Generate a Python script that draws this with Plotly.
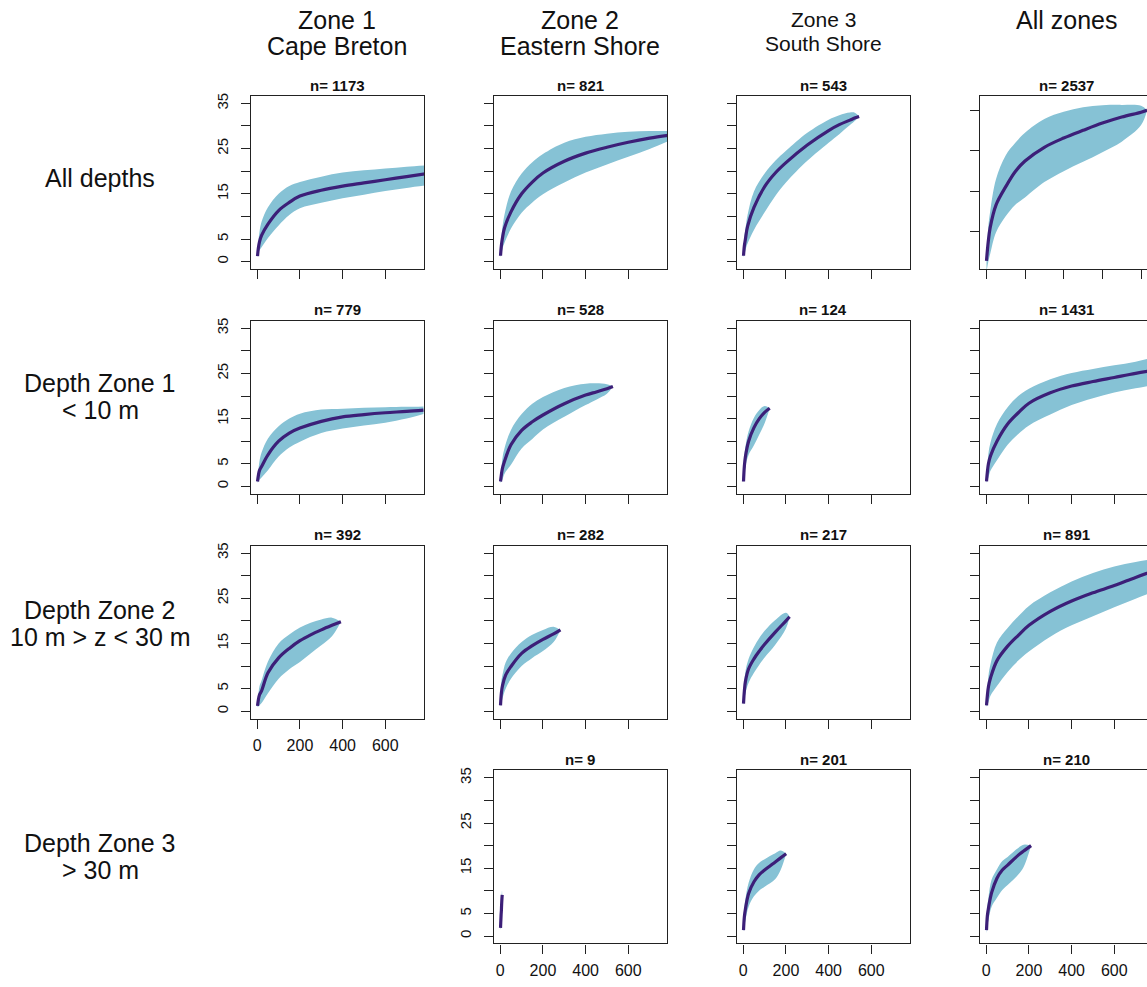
import plotly.graph_objects as go

# ---------------- data ----------------
r1c1_x = [1, 5, 10, 20, 50, 100, 150, 200, 300, 400, 500, 600, 700, 800]
r1c1_mean = [1.2, 3.0, 4.3, 5.8, 8.3, 11.3, 13.1, 14.5, 15.8, 16.7, 17.4, 18.1, 18.8, 19.5]
r1c1_hi = [1.5, 4.5, 6.5, 8.8, 12.0, 15.0, 16.7, 17.6, 18.8, 19.7, 20.2, 20.6, 21.0, 21.3]
r1c1_lo = [0.9, 1.8, 2.5, 3.2, 5.2, 8.0, 10.3, 11.8, 13.0, 14.0, 14.8, 15.6, 16.3, 16.9]

r1c2_x = [1, 5, 10, 20, 50, 100, 150, 200, 300, 400, 500, 600, 700, 800]
r1c2_mean = [1.3, 3.5, 5.2, 7.5, 11.0, 15.0, 17.6, 19.6, 22.2, 24.0, 25.3, 26.4, 27.3, 28.0]
r1c2_hi = [1.6, 5.5, 7.6, 10.5, 15.5, 19.5, 22.0, 23.8, 26.3, 27.6, 28.3, 28.7, 28.9, 28.9]
r1c2_lo = [1.0, 1.5, 2.8, 4.2, 7.3, 10.8, 13.1, 14.9, 17.5, 19.7, 21.5, 23.2, 24.9, 26.9]

r1c3_x = [1, 5, 10, 20, 50, 100, 150, 200, 300, 400, 450, 500, 525, 543]
r1c3_mean = [1.3, 3.5, 5.0, 7.8, 12.0, 16.6, 19.6, 21.9, 25.8, 29.0, 30.3, 31.3, 31.8, 32.1]
r1c3_hi = [1.6, 5.5, 7.2, 10.3, 15.5, 19.5, 22.3, 24.5, 28.5, 31.4, 32.4, 33.0, 32.9, 32.1]
r1c3_lo = [1.0, 1.5, 2.5, 4.0, 7.0, 10.9, 14.5, 17.5, 22.3, 26.3, 28.2, 30.2, 31.2, 32.1]

r1c4_x = [1, 10, 20, 50, 100, 150, 200, 300, 400, 500, 600, 700, 800, 831]
r1c4_mean = [2.8, 7.5, 11.0, 16.6, 21.1, 24.9, 27.5, 30.9, 33.2, 35.1, 36.9, 38.4, 39.6, 40.1]
r1c4_hi = [3.2, 11.0, 15.0, 23.0, 28.9, 32.0, 34.5, 37.9, 39.7, 40.8, 41.3, 41.4, 41.2, 40.1]
r1c4_lo = [0.0, 2.5, 4.5, 9.8, 13.8, 16.7, 18.5, 22.3, 25.0, 27.3, 29.7, 32.3, 36.4, 40.1]

r2c1_x = [1, 10, 20, 50, 100, 150, 200, 300, 400, 500, 600, 700, 779]
r2c1_mean = [1.1, 3.5, 4.4, 7.0, 10.0, 11.8, 12.9, 14.4, 15.4, 15.9, 16.3, 16.6, 16.9]
r2c1_hi = [1.4, 5.5, 7.5, 10.6, 13.3, 15.0, 16.1, 17.0, 17.2, 17.4, 17.5, 17.6, 17.7]
r2c1_lo = [0.8, 1.5, 2.0, 3.6, 6.6, 8.6, 9.9, 11.8, 12.8, 13.5, 14.1, 15.0, 16.0]

r2c2_x = [1, 10, 20, 50, 100, 150, 200, 300, 400, 450, 500, 528]
r2c2_mean = [1.1, 4.0, 5.6, 9.2, 12.4, 14.3, 15.8, 18.3, 20.2, 20.9, 21.6, 22.1]
r2c2_hi = [1.4, 6.2, 8.5, 12.5, 16.0, 18.3, 19.8, 21.8, 22.7, 22.8, 22.6, 22.1]
r2c2_lo = [0.8, 1.5, 2.8, 4.8, 8.4, 10.5, 12.6, 15.4, 18.0, 19.2, 20.5, 22.1]

r2c3_x = [1, 5, 10, 25, 50, 75, 100, 124]
r2c3_mean = [1.1, 4.5, 6.6, 10.0, 13.0, 15.0, 16.4, 17.3]
r2c3_hi = [1.4, 6.5, 8.8, 12.2, 15.2, 16.9, 17.8, 17.3]
r2c3_lo = [0.8, 2.5, 4.3, 7.0, 9.1, 11.5, 14.0, 17.3]

r2c4_x = [1, 10, 20, 50, 100, 150, 200, 300, 400, 500, 600, 700, 800]
r2c4_mean = [1.1, 5.0, 6.8, 10.0, 13.8, 16.3, 18.4, 20.7, 22.2, 23.2, 24.1, 25.0, 25.8]
r2c4_hi = [1.4, 7.3, 9.8, 13.8, 17.5, 20.0, 21.6, 23.7, 25.1, 26.0, 26.8, 27.6, 28.7]
r2c4_lo = [0.8, 2.0, 3.5, 5.8, 9.2, 11.6, 13.5, 15.9, 18.0, 19.5, 20.8, 21.7, 22.6]

r3c1_x = [1, 10, 20, 50, 100, 150, 200, 250, 300, 350, 392]
r3c1_mean = [1.2, 3.6, 4.5, 8.5, 11.8, 13.9, 15.6, 16.9, 18.0, 19.0, 19.8]
r3c1_hi = [1.5, 5.5, 6.8, 11.0, 15.0, 17.0, 18.5, 19.6, 20.3, 20.7, 19.8]
r3c1_lo = [0.9, 1.3, 1.8, 4.0, 7.2, 9.3, 10.9, 12.8, 14.6, 16.6, 19.8]

r3c2_x = [1, 5, 10, 25, 50, 100, 150, 200, 250, 282]
r3c2_mean = [1.3, 4.0, 5.6, 8.0, 9.9, 12.8, 14.5, 15.9, 17.1, 18.0]
r3c2_hi = [1.6, 6.5, 8.0, 10.8, 12.8, 15.3, 16.9, 18.0, 18.7, 18.0]
r3c2_lo = [1.0, 1.8, 2.8, 5.0, 7.2, 10.0, 11.8, 13.3, 15.3, 18.0]

r3c3_x = [1, 5, 10, 25, 50, 75, 100, 150, 200, 217]
r3c3_mean = [1.7, 4.5, 6.6, 9.4, 11.6, 13.3, 14.8, 17.5, 20.0, 20.9]
r3c3_hi = [2.0, 6.5, 8.8, 11.6, 14.2, 16.2, 17.8, 20.2, 21.8, 20.9]
r3c3_lo = [1.4, 2.5, 4.0, 6.3, 8.5, 10.3, 11.9, 14.7, 18.3, 20.9]

r3c4_x = [1, 10, 20, 50, 100, 150, 200, 300, 400, 500, 600, 700, 800]
r3c4_mean = [1.3, 5.4, 7.4, 11.2, 14.4, 16.8, 19.0, 22.1, 24.4, 26.2, 27.8, 29.6, 31.3]
r3c4_hi = [1.6, 7.8, 10.5, 15.2, 18.4, 21.0, 23.3, 26.3, 28.7, 30.6, 32.0, 33.0, 33.8]
r3c4_lo = [1.0, 2.0, 3.5, 5.6, 8.7, 11.2, 13.2, 16.5, 19.0, 21.0, 23.0, 24.9, 26.7]

r4c2_x = [1, 2, 3, 4, 5, 6, 7, 8, 9]
r4c2_mean = [1.8, 2.9, 3.9, 4.9, 5.6, 6.8, 7.7, 8.5, 9.1]
r4c2_hi = [2.1, 4.5, 6.0, 7.2, 8.2, 9.0, 9.6, 10.0, 9.1]
r4c2_lo = [1.5, 1.5, 2.0, 2.8, 3.5, 4.5, 5.8, 7.2, 9.1]

r4c3_x = [1, 5, 10, 25, 50, 75, 100, 150, 175, 201]
r4c3_mean = [1.3, 4.3, 6.0, 9.4, 12.0, 13.6, 14.6, 16.4, 17.3, 18.2]
r4c3_hi = [1.6, 6.2, 8.2, 11.8, 14.8, 16.2, 17.0, 18.3, 18.9, 18.2]
r4c3_lo = [1.0, 2.0, 3.5, 6.5, 8.8, 10.1, 10.9, 12.6, 14.6, 18.2]

r4c4_x = [1, 5, 10, 25, 50, 75, 100, 150, 175, 210]
r4c4_mean = [1.3, 4.5, 6.1, 9.6, 12.8, 14.6, 15.7, 17.9, 18.8, 20.0]
r4c4_hi = [1.6, 6.5, 8.5, 12.5, 14.8, 16.6, 17.5, 19.5, 20.2, 20.0]
r4c4_lo = [0.6, 2.2, 3.5, 6.5, 8.5, 10.2, 11.3, 13.6, 15.3, 20.0]

n_labels = {(1, 1): "n= 1173", (1, 2): "n= 821", (1, 3): "n= 543", (1, 4): "n= 2537",
            (2, 1): "n= 779", (2, 2): "n= 528", (2, 3): "n= 124", (2, 4): "n= 1431",
            (3, 1): "n= 392", (3, 2): "n= 282", (3, 3): "n= 217", (3, 4): "n= 891",
            (4, 2): "n= 9", (4, 3): "n= 201", (4, 4): "n= 210"}

col_titles = [["Zone 1", "Cape Breton"], ["Zone 2", "Eastern Shore"],
              ["Zone 3", "South Shore"], ["All zones"]]
row_titles = [["All depths"], ["Depth Zone 1", "&lt; 10 m"],
              ["Depth Zone 2", "10 m &gt; z &lt; 30 m"], ["Depth Zone 3", "&gt; 30 m"]]

x_ticks = [0, 200, 400, 600, 800]
y_ticks = [0, 5, 10, 15, 20, 25, 30, 35]
y_ticktext = ["0", "5", "", "15", "", "25", "", "35"]
y_ticks_all = [10, 20, 30, 40]

# ---------------- layout / style ----------------
W, H = 1147, 987
BAND = "#86C2D5"
LINE = "#3C1F78"
FRAME = "#222222"
FONT = "Liberation Sans, Arial, Helvetica, sans-serif"

panels = [
    (1, 1, r1c1_x, r1c1_mean, r1c1_lo, r1c1_hi),
    (1, 2, r1c2_x, r1c2_mean, r1c2_lo, r1c2_hi),
    (1, 3, r1c3_x, r1c3_mean, r1c3_lo, r1c3_hi),
    (1, 4, r1c4_x, r1c4_mean, r1c4_lo, r1c4_hi),
    (2, 1, r2c1_x, r2c1_mean, r2c1_lo, r2c1_hi),
    (2, 2, r2c2_x, r2c2_mean, r2c2_lo, r2c2_hi),
    (2, 3, r2c3_x, r2c3_mean, r2c3_lo, r2c3_hi),
    (2, 4, r2c4_x, r2c4_mean, r2c4_lo, r2c4_hi),
    (3, 1, r3c1_x, r3c1_mean, r3c1_lo, r3c1_hi),
    (3, 2, r3c2_x, r3c2_mean, r3c2_lo, r3c2_hi),
    (3, 3, r3c3_x, r3c3_mean, r3c3_lo, r3c3_hi),
    (3, 4, r3c4_x, r3c4_mean, r3c4_lo, r3c4_hi),
    (4, 2, r4c2_x, r4c2_mean, r4c2_lo, r4c2_hi),
    (4, 3, r4c3_x, r4c3_mean, r4c3_lo, r4c3_hi),
    (4, 4, r4c4_x, r4c4_mean, r4c4_lo, r4c4_hi),
]


def px_x(p):
    return p / W


def px_y(p):
    return 1 - p / H


PANEL = 173.5
COL0, COLSTEP = 250.7, 243.0
ROW0, ROWSTEP = 93.3, 225.5
TICK0 = 6.6
SMOOTH = 1.0
TXT_UP = 2.5  # annotation boxes sit slightly low compared with glyph centres

fig = go.Figure()
layout = dict(
    width=W, height=H, margin=dict(l=0, r=0, t=0, b=0),
    paper_bgcolor="white", plot_bgcolor="white", showlegend=False,
    font=dict(family=FONT, color="#111111"),
)
annotations = []

for i, (r, c, xs, m, lo, hi) in enumerate(panels, start=1):
    left = COL0 + COLSTEP * (c - 1)
    right = min(left + PANEL, W)
    top = ROW0 + ROWSTEP * (r - 1)
    bottom = top + PANEL
    special = (r == 1 and c == 4)
    xscale = 0.1935 if special else 0.2133
    xr = [-TICK0 / xscale, (right - left - TICK0) / xscale]
    yr = [0.77, 43.6] if special else [-1.63, 36.63]
    sfx = "" if i == 1 else str(i)
    xa, ya = "x" + sfx, "y" + sfx

    fig.add_trace(go.Scatter(x=xs, y=lo, xaxis=xa, yaxis=ya, mode="lines",
                             line=dict(width=0, color=BAND, shape="spline", smoothing=SMOOTH),
                             hoverinfo="skip"))
    fig.add_trace(go.Scatter(x=xs, y=hi, xaxis=xa, yaxis=ya, mode="lines",
                             line=dict(width=0, color=BAND, shape="spline", smoothing=SMOOTH),
                             fill="tonexty", fillcolor=BAND, hoverinfo="skip"))
    fig.add_trace(go.Scatter(x=xs, y=m, xaxis=xa, yaxis=ya, mode="lines",
                             line=dict(width=3.2, color=LINE, shape="spline", smoothing=SMOOTH)))

    show_x = (r == 3 and c == 1) or r == 4
    show_y = (c == 1) or (r == 4 and c == 2)
    layout["xaxis" + sfx] = dict(
        domain=[px_x(left), px_x(right)], anchor=ya, range=xr,
        tickmode="array", tickvals=x_ticks, ticktext=[str(v) for v in x_ticks],
        showticklabels=show_x, ticks="outside", ticklen=9, tickwidth=1, tickcolor=FRAME,
        showline=True, linecolor=FRAME, linewidth=1.3, mirror=True,
        showgrid=False, zeroline=False, tickfont=dict(size=16, family=FONT, color="#111"),
        ticklabelstandoff=3, fixedrange=True,
    )
    if special:
        yvals, ytext = y_ticks_all, ["" for _ in y_ticks_all]
    else:
        yvals, ytext = y_ticks, y_ticktext
    layout["yaxis" + sfx] = dict(
        domain=[px_y(bottom), px_y(top)], anchor=xa, range=yr,
        tickmode="array", tickvals=yvals, ticktext=ytext,
        showticklabels=show_y, ticks="outside", ticklen=9, tickwidth=1, tickcolor=FRAME,
        showline=True, linecolor=FRAME, linewidth=1.3, mirror=(c != 4),
        showgrid=False, zeroline=False, tickangle=-90,
        tickfont=dict(size=15, family=FONT, color="#111"),
        ticklabelstandoff=7, fixedrange=True,
    )
    annotations.append(dict(
        text="<b>" + n_labels[(r, c)] + "</b>", xref="paper", yref="paper",
        x=px_x(COL0 + COLSTEP * (c - 1) + PANEL / 2), y=px_y(top - 8.5 - TXT_UP),
        xanchor="center", yanchor="middle", showarrow=False,
        font=dict(size=15, family=FONT, color="#111")))

# column headers
col_y = [[20, 46], [20, 46], [19, 43], [20]]
col_size = [25, 25, 21, 25]
for c, lines in enumerate(col_titles):
    cx = COL0 + COLSTEP * c + PANEL / 2
    for k, txt in enumerate(lines):
        annotations.append(dict(text=txt, xref="paper", yref="paper", x=px_x(cx),
                                y=px_y(col_y[c][k] - TXT_UP), xanchor="center",
                                yanchor="middle", showarrow=False,
                                font=dict(size=col_size[c], family=FONT, color="#111")))

# row headers
row_y = [[178], [384, 411], [611, 638], [845, 872]]
for r, lines in enumerate(row_titles):
    for k, txt in enumerate(lines):
        annotations.append(dict(text=txt, xref="paper", yref="paper", x=px_x(100),
                                y=px_y(row_y[r][k] - TXT_UP), xanchor="center",
                                yanchor="middle", showarrow=False,
                                font=dict(size=25, family=FONT, color="#111")))

layout["annotations"] = annotations
fig.update_layout(**layout)
fig.write_html("out.html", config={"displayModeBar": False})
